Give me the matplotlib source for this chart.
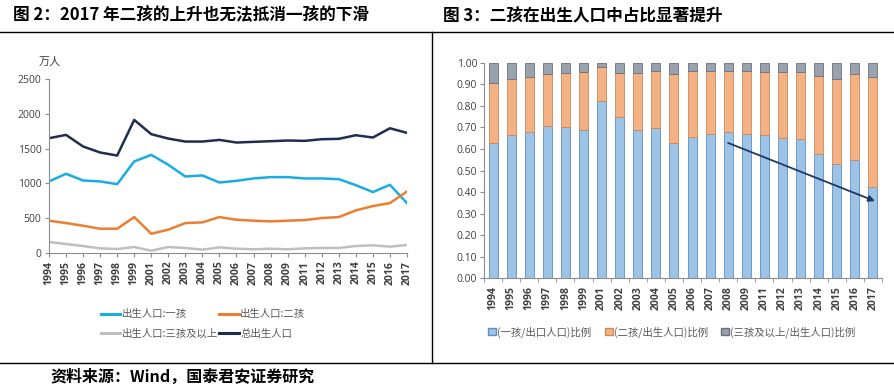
import numpy as np
import matplotlib.pyplot as plt
from matplotlib.lines import Line2D
from matplotlib.patches import Patch

plt.rcParams['font.family'] = ['Noto Sans CJK SC', 'DejaVu Sans']

# Data
years = ['1994', '1995', '1996', '1997', '1998', '1999', '2001', '2002', '2003', '2004', '2005',
         '2006', '2007', '2008', '2009', '2011', '2012', '2013', '2014', '2015', '2016', '2017']

# births, 10k persons
first_child = [1028, 1138, 1042, 1028, 989, 1315, 1410, 1267, 1099, 1114, 1013,
               1037, 1071, 1090, 1090, 1071, 1071, 1061, 975, 875, 980, 717]
second_child = [464, 430, 392, 349, 349, 516, 277, 335, 430, 440, 516,
                478, 464, 454, 464, 473, 502, 516, 612, 674, 717, 884]
third_plus = [158, 129, 100, 67, 57, 86, 33, 86, 72, 48, 81,
              62, 53, 62, 53, 67, 72, 72, 100, 110, 91, 115]
total_births = [1649, 1697, 1530, 1444, 1400, 1912, 1707, 1644, 1601, 1601, 1625,
                1587, 1597, 1606, 1616, 1611, 1635, 1640, 1692, 1659, 1792, 1726]

# shares of births
share_first = [0.626, 0.667, 0.678, 0.709, 0.701, 0.688, 0.822, 0.750, 0.688, 0.696, 0.628,
               0.657, 0.668, 0.678, 0.668, 0.664, 0.651, 0.645, 0.577, 0.529, 0.547, 0.422]
share_second = [0.279, 0.257, 0.255, 0.241, 0.251, 0.269, 0.161, 0.202, 0.264, 0.267, 0.319,
                 0.304, 0.295, 0.285, 0.295, 0.293, 0.306, 0.312, 0.361, 0.398, 0.402, 0.511]
share_third = [0.095, 0.076, 0.067, 0.050, 0.048, 0.043, 0.017, 0.048, 0.048, 0.037, 0.053,
               0.039, 0.037, 0.037, 0.037, 0.043, 0.043, 0.043, 0.062, 0.073, 0.051, 0.067]

# trend arrow on the share chart (bar index, share)
arrow_start = (12.85, 0.633)
arrow_end = (21.25, 0.353)

line_labels = ['出生人口:一孩', '出生人口:二孩', '出生人口:三孩及以上', '总出生人口']
bar_labels = ['(一孩/出口人口)比例', '(二孩/出生人口)比例', '(三孩及以上/出生人口)比例']

C_FIRST = '#1AADE4'
C_SECOND = '#ED7D31'
C_THIRD = '#BFBFBF'
C_TOTAL = '#1F2E50'
AXIS_GREY = '#8C8C8C'
TICK_FONT = ['Open Sans', 'DejaVu Sans']

fig = plt.figure(figsize=(8.94, 3.92), dpi=100)

# frame lines and titles
fig.add_artist(Line2D([0, 1], [0.918, 0.918], transform=fig.transFigure, color='black', lw=1.0))
fig.add_artist(Line2D([0.4832, 0.4832], [0.918, 0.074], transform=fig.transFigure, color='black', lw=1.0))
fig.add_artist(Line2D([0, 1], [0.074, 0.074], transform=fig.transFigure, color='black', lw=1.0))

fig.text(0.0145, 0.962, '图 2：2017 年二孩的上升也无法抵消一孩的下滑', fontsize=12, fontweight='bold',
         va='center', ha='left')
fig.text(0.4955, 0.962, '图 3：二孩在出生人口中占比显著提升', fontsize=12, fontweight='bold',
         va='center', ha='left')
fig.text(0.056, 0.038, '资料来源：Wind，国泰君安证券研究', fontsize=11.5, fontweight='bold',
         va='center', ha='left')

# ---- left: births by parity ----
x = np.arange(len(years))
ax1 = fig.add_axes([0.0548, 0.3546, 0.4004, 0.4439])
ax1.plot(x, first_child, color=C_FIRST, lw=1.8)
ax1.plot(x, second_child, color=C_SECOND, lw=1.8)
ax1.plot(x, third_plus, color=C_THIRD, lw=1.8)
ax1.plot(x, total_births, color=C_TOTAL, lw=1.8)
ax1.set_xlim(0, len(years) - 1)
ax1.set_ylim(0, 2500)
ax1.set_yticks(np.arange(0, 2501, 500))
ax1.set_xticks(x)
ax1.set_xticklabels(years, rotation=90, fontsize=7.5, fontweight='bold', family=TICK_FONT)
for lab in ax1.get_yticklabels():
    lab.set_family(TICK_FONT)
    lab.set_fontsize(7.5)
for s in ['top', 'right']:
    ax1.spines[s].set_visible(False)
for s in ['left', 'bottom']:
    ax1.spines[s].set_color(AXIS_GREY)
ax1.tick_params(axis='both', direction='out', length=3, color=AXIS_GREY, colors='#404040', pad=2.5)
fig.text(0.0436, 0.842, '万人', fontsize=8, color='#404040', va='center', ha='left')

h = [Line2D([], [], color=C_FIRST, lw=2.2), Line2D([], [], color=C_THIRD, lw=2.2),
     Line2D([], [], color=C_SECOND, lw=2.2), Line2D([], [], color=C_TOTAL, lw=2.2)]
lab = [line_labels[0], line_labels[2], line_labels[1], line_labels[3]]
fig.legend(h, lab, ncol=2, loc='center', bbox_to_anchor=(0.227, 0.173), frameon=False,
           fontsize=7.5, handlelength=1.9, handletextpad=0.1, columnspacing=0.15,
           labelspacing=0.9, labelcolor='#595959')

# ---- right: share of births ----
B_FIRST, E_FIRST = '#9DC3E6', '#5F8FBF'
B_SECOND, E_SECOND = '#F4B183', '#C98A5C'
B_THIRD, E_THIRD = '#9AA2AE', '#687080'

ax2 = fig.add_axes([0.5414, 0.2908, 0.4452, 0.5485])
w = 0.5
ax2.bar(x, share_first, w, color=B_FIRST, edgecolor=E_FIRST, lw=0.6)
ax2.bar(x, share_second, w, bottom=share_first, color=B_SECOND, edgecolor=E_SECOND, lw=0.6)
bottom3 = np.array(share_first) + np.array(share_second)
ax2.bar(x, share_third, w, bottom=bottom3, color=B_THIRD, edgecolor=E_THIRD, lw=0.6)
ax2.set_xlim(-0.5, len(years) - 0.5)
ax2.set_ylim(0, 1.0)
ax2.set_yticks(np.arange(0, 1.001, 0.1))
ax2.set_yticklabels(['%.2f' % v for v in np.arange(0, 1.001, 0.1)], family=TICK_FONT, fontsize=7.5)
ax2.set_xticks(x)
ax2.set_xticklabels(years, rotation=90, fontsize=7.5, fontweight='bold', family=TICK_FONT)
ax2.set_xticks(np.arange(-0.5, len(years), 1), minor=True)
ax2.tick_params(axis='x', which='major', length=0, pad=6, colors='#404040')
ax2.tick_params(axis='x', which='minor', length=3, color=AXIS_GREY)
ax2.tick_params(axis='y', direction='out', length=3, color=AXIS_GREY, colors='#404040', pad=2)
for s in ['top', 'right']:
    ax2.spines[s].set_visible(False)
for s in ['left', 'bottom']:
    ax2.spines[s].set_color(AXIS_GREY)

ax2.annotate('', xy=arrow_end, xytext=arrow_start,
             arrowprops=dict(arrowstyle='-|>', color='#1F3864', lw=1.3, mutation_scale=9))

ph = [Patch(facecolor=B_FIRST, edgecolor=E_FIRST), Patch(facecolor=B_SECOND, edgecolor=E_SECOND),
      Patch(facecolor=B_THIRD, edgecolor=E_THIRD)]
fig.legend(ph, bar_labels, ncol=3, loc='center', bbox_to_anchor=(0.7517, 0.153), frameon=False,
           fontsize=7.5, handlelength=0.75, handleheight=0.75, handletextpad=0.1,
           columnspacing=1.3, labelcolor='#595959')

fig.savefig('out.png', dpi=100)
